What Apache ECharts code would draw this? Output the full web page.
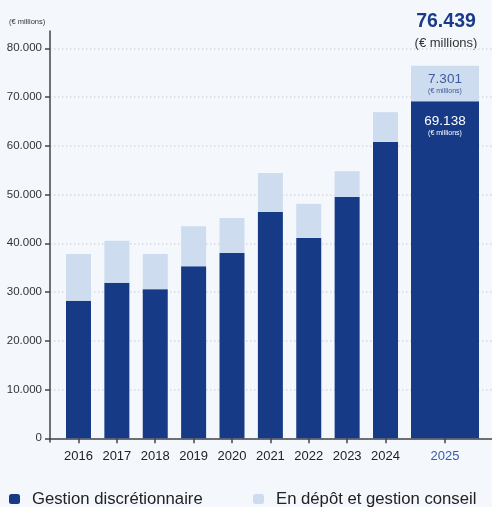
<!DOCTYPE html>
<html>
<head>
<meta charset="utf-8">
<script src="https://cdn.jsdelivr.net/npm/echarts@6/dist/echarts.min.js"></script>
<style>
html,body{margin:0;padding:0;background:#f4f8fd;}
#chart{width:492px;height:507px;}
</style>
</head>
<body>
<div id="chart"></div>
<script>
const categories = ['2016','2017','2018','2019','2020','2021','2022','2023','2024'];
const discretionary = [28200, 31900, 30600, 35300, 38000, 46400, 41100, 49500, 60800];
const custody = [9600, 8600, 7200, 8200, 7200, 8000, 7000, 5300, 6100];
const latestYear = ['2025'];
const discretionaryLatest = [69138];
const custodyLatest = [7301];
const yMin = 0, yMax = 80000, yStep = 10000;
const unitText = '(€ millions)';
const seriesNames = ['Gestion discrétionnaire', 'En dépôt et gestion conseil'];

const DARK = '#163a86', LIGHT = '#cddcee', AXIS = '#444', TXT = '#222';
const SANS = '"Liberation Sans", Arial, sans-serif';
const fmt = n => String(Math.round(n)).replace(/\B(?=(\d{3})+(?!\d))/g, '.');
const total = discretionaryLatest[0] + custodyLatest[0];

const chart = echarts.init(document.getElementById('chart'));
const hiddenY = {type:'value', min:yMin, max:yMax, show:false};
chart.setOption({
  backgroundColor: '#f4f8fd',
  animation: false,
  textStyle: {fontFamily: SANS},
  grid: [
    {left:50, right:0, top:31, height:411},
    {left:50, right:0, top:48.3, height:390},
    {left:59.3, width:345.4, top:48.3, height:390},
    {left:404.7, width:80.6, top:48.3, height:390}
  ],
  xAxis: [
    {gridIndex:0, type:'value', min:0, max:1, show:false},
    {gridIndex:1, type:'value', min:0, max:1, axisLine:{show:true, onZero:false, lineStyle:{color:AXIS, width:1.5}},
      axisTick:{show:false}, axisLabel:{show:false}, splitLine:{show:false}},
    {gridIndex:2, type:'category', data:categories, axisLine:{show:false},
      axisTick:{show:true, alignWithLabel:true, interval:0, length:5, lineStyle:{color:AXIS, width:1.5}},
      axisLabel:{interval:0, color:TXT, fontFamily:SANS, fontSize:13, margin:11.5}},
    {gridIndex:3, type:'category', data:latestYear, axisLine:{show:false},
      axisTick:{show:true, alignWithLabel:true, length:5, lineStyle:{color:AXIS, width:1.5}},
      axisLabel:{color:'#3a5aa8', fontFamily:SANS, fontSize:13, margin:11.5}}
  ],
  yAxis: [
    {gridIndex:0, type:'value', min:0, max:1, axisLine:{show:true, onZero:false, lineStyle:{color:AXIS, width:1.5}},
      axisTick:{show:false}, axisLabel:{show:false}, splitLine:{show:false}},
    {gridIndex:1, type:'value', min:yMin, max:yMax, interval:yStep, axisLine:{show:false},
      axisTick:{show:true, length:5, lineStyle:{color:AXIS, width:1.5}},
      axisLabel:{color:'#333', fontFamily:SANS, fontSize:11.5, margin:8, formatter:v => fmt(v)},
      splitLine:{show:true, lineStyle:{color:'#d6d9de', width:1.5, type:[1.5,2.5]}}},
    Object.assign({gridIndex:2}, hiddenY),
    Object.assign({gridIndex:3}, hiddenY)
  ],
  legend: [
    {left:4, top:485.5, data:[seriesNames[0]], icon:'roundRect', itemWidth:11, itemHeight:10,
      textStyle:{color:TXT, fontFamily:SANS, fontSize:16.7, padding:[0,0,0,7]}, selectedMode:false},
    {left:248, top:485.5, data:[seriesNames[1]], icon:'roundRect', itemWidth:11, itemHeight:10,
      textStyle:{color:TXT, fontFamily:SANS, fontSize:16.7, padding:[0,0,0,7]}, selectedMode:false}
  ],
  graphic: [
    {type:'text', x:9, y:22, style:{text:unitText, fill:'#333', font:'7.5px ' + SANS, textVerticalAlign:'middle'}},
    {type:'text', x:446, y:22, style:{text:fmt(total), fill:'#1a3a8a', font:'bold 19.5px ' + SANS, textAlign:'center', textVerticalAlign:'middle'}},
    {type:'text', x:446, y:43, style:{text:unitText, fill:'#333', font:'13px ' + SANS, textAlign:'center', textVerticalAlign:'middle'}}
  ],
  series: [
    {name:seriesNames[0], type:'bar', xAxisIndex:2, yAxisIndex:2, stack:'a', data:discretionary, barWidth:25, itemStyle:{color:DARK}},
    {name:seriesNames[1], type:'bar', xAxisIndex:2, yAxisIndex:2, stack:'a', data:custody, barWidth:25, itemStyle:{color:LIGHT}},
    {name:seriesNames[0], type:'bar', xAxisIndex:3, yAxisIndex:3, stack:'b', data:discretionaryLatest, barWidth:68, itemStyle:{color:DARK},
      label:{show:true, position:'insideTop', distance:12.8, formatter:p => '{v|' + fmt(p.value) + '}\n{u|' + unitText + '}',
        rich:{v:{color:'#fff', fontFamily:SANS, fontSize:13.5, lineHeight:15}, u:{color:'#fff', fontFamily:SANS, fontSize:7, lineHeight:9}}}},
    {name:seriesNames[1], type:'bar', xAxisIndex:3, yAxisIndex:3, stack:'b', data:custodyLatest, barWidth:68, itemStyle:{color:LIGHT},
      label:{show:true, position:'inside', formatter:p => '{v|' + fmt(p.value) + '}\n{u|' + unitText + '}',
        rich:{v:{color:'#3d5a9e', fontFamily:SANS, fontSize:13.5, lineHeight:15}, u:{color:'#3d5a9e', fontFamily:SANS, fontSize:7, lineHeight:9}}}}
  ]
});
</script>
</body>
</html>
